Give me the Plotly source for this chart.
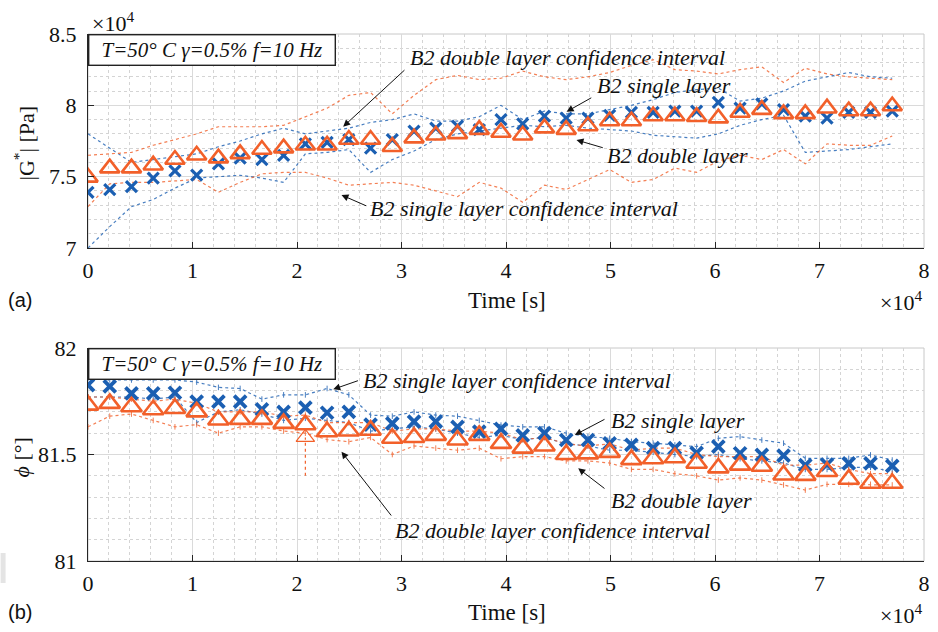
import plotly.graph_objects as go

# ---------------- data ----------------
time_s = [0, 2080, 4160, 6240, 8320, 10400, 12480, 14560, 16640, 18720,
          20800, 22880, 24960, 27040, 29120, 31200, 33280, 35360, 37440, 39520,
          41600, 43680, 45760, 47840, 49920, 52000, 54080, 56160, 58240, 60320,
          62400, 64480, 66560, 68640, 70720, 72800, 74880, 76960]

# |G*| [Pa]
g_single = [73900, 74100, 74300, 74900, 75400, 75100, 75900, 76300, 76200, 76500,
            77300, 77400, 77600, 77000, 77600, 78200, 78400, 78550, 78300, 79000,
            78700, 79250, 79100, 79100, 79300, 79500, 79500, 79600, 79600, 80200,
            79800, 80100, 79700, 79250, 79100, 79500, 79500, 79600]
g_double = [74950, 75600, 75600, 75800, 76200, 76500, 76300, 76600, 76900, 77000,
            77200, 77200, 77600, 77600, 77100, 77700, 77900, 78000, 78300, 78100,
            77900, 78400, 78300, 78550, 78900, 78900, 79250, 79250, 79200, 79100,
            79500, 79700, 79400, 79400, 79800, 79600, 79600, 79950]
g_single_hi = [78000, 77000, 76000, 76200, 76400, 76600, 77100, 77500, 78000, 78400,
               78000, 78200, 78400, 78800, 79000, 79400, 78900, 78900, 79200, 80000,
               79000, 79600, 79400, 79400, 79700, 80000, 80400, 80900, 81100, 81200,
               80300, 80500, 81000, 81700, 82000, 82300, 82000, 81900]
g_single_lo = [70000, 71500, 72900, 73400, 74200, 74900, 75000, 75100, 74900, 74600,
               76600, 76700, 76900, 75300, 76200, 76800, 77600, 78000, 78200, 78400,
               78600, 78500, 78600, 78400, 78300, 78200, 77900, 77800, 77700, 78000,
               78600, 79000, 79300, 76700, 76800, 76900, 77100, 77300]
g_double_hi = [76500, 76600, 76700, 77200, 77600, 78000, 78500, 78500, 78500, 78600,
               79200, 79800, 80700, 80900, 79400, 80700, 81800, 82100, 81800, 81900,
               82400, 82000, 81800, 82000, 82300, 82800, 83200, 82500, 82400, 82200,
               82500, 82700, 81600, 82600, 82200, 82000, 81900, 81800]
g_double_lo = [72900, 74500, 74600, 74600, 74700, 74800, 73900, 74600, 75200, 75300,
               75300, 74900, 74400, 74500, 74600, 74400, 74000, 73600, 74600, 74200,
               73200, 74400, 74100, 74800, 75500, 74600, 74800, 75600, 75300, 76100,
               76500, 76200, 76900, 75900, 77300, 77200, 77200, 77850]

# phase angle [deg]
p_single = [81.826, 81.82, 81.787, 81.787, 81.79, 81.748, 81.748, 81.748, 81.712, 81.70,
            81.72, 81.696, 81.70, 81.64, 81.646, 81.654, 81.654, 81.63, 81.607, 81.62,
            81.59, 81.60, 81.568, 81.568, 81.552, 81.545, 81.53, 81.53, 81.508, 81.537,
            81.506, 81.498, 81.495, 81.45, 81.453, 81.458, 81.458, 81.447]
p_double = [81.732, 81.74, 81.724, 81.71, 81.716, 81.70, 81.662, 81.665, 81.665, 81.646,
            81.64, 81.607, 81.61, 81.614, 81.576, 81.58, 81.59, 81.568, 81.59, 81.552,
            81.53, 81.54, 81.50, 81.503, 81.51, 81.476, 81.48, 81.485, 81.459, 81.437,
            81.45, 81.445, 81.404, 81.402, 81.42, 81.384, 81.365, 81.365]
p_single_hi = [81.858, 81.85, 81.85, 81.85, 81.85, 81.84, 81.815, 81.81, 81.76, 81.78,
               81.78, 81.81, 81.78, 81.685, 81.68, 81.70, 81.685, 81.68, 81.66, 81.638,
               81.63, 81.63, 81.60, 81.584, 81.576, 81.56, 81.553, 81.545, 81.537, 81.576,
               81.584, 81.568, 81.553, 81.482, 81.482, 81.482, 81.498, 81.474]
p_single_lo = [81.77, 81.77, 81.77, 81.76, 81.77, 81.65, 81.70, 81.71, 81.69, 81.66,
               81.67, 81.66, 81.65, 81.61, 81.62, 81.63, 81.62, 81.60, 81.58, 81.59,
               81.57, 81.58, 81.55, 81.54, 81.52, 81.52, 81.51, 81.50, 81.49, 81.50,
               81.48, 81.47, 81.46, 81.43, 81.43, 81.44, 81.44, 81.42]
p_double_hi = [81.77, 81.77, 81.76, 81.75, 81.76, 81.74, 81.70, 81.70, 81.70, 81.68,
               81.685, 81.65, 81.65, 81.65, 81.61, 81.62, 81.62, 81.61, 81.61, 81.60,
               81.57, 81.58, 81.55, 81.54, 81.55, 81.52, 81.53, 81.53, 81.50, 81.49,
               81.49, 81.49, 81.45, 81.45, 81.46, 81.43, 81.41, 81.41]
p_double_lo = [81.63, 81.68, 81.69, 81.66, 81.63, 81.64, 81.60, 81.63, 81.63, 81.61,
               81.60, 81.57, 81.56, 81.58, 81.50, 81.54, 81.53, 81.52, 81.53, 81.48,
               81.49, 81.49, 81.47, 81.47, 81.46, 81.43, 81.43, 81.41, 81.40, 81.38,
               81.39, 81.38, 81.357, 81.333, 81.36, 81.36, 81.36, 81.357]
# extra double-layer repeat point with its lower bound
extra_t = [20800]
extra_phi = [81.58]
extra_lo = [81.40]

x_ticks = [0, 10000, 20000, 30000, 40000, 50000, 60000, 70000, 80000]
x_ticktext = ["0", "1", "2", "3", "4", "5", "6", "7", "8"]
g_ticks = [70000, 75000, 80000, 85000]
g_ticktext = ["7", "7.5", "8", "8.5"]
p_ticks = [81, 81.5, 82]
p_ticktext = ["81", "81.5", "82"]

# ---------------- style ----------------
BLUE = "#1b5fb2"
ORANGE = "#f2602a"
SERIF = "Liberation Serif"
SANS = "Liberation Sans"
W, H = 938, 632
L, R, T, B = 88, 8, 34, 71
PW, PH = W - L - R, H - T - B


def pxx(x):
    return (x - L) / PW


def pxy(y):
    return (H - B - y) / PH


fig = go.Figure()


def add_panel(yref, xref, single, double, s_hi, s_lo, d_hi, d_lo, ci_marker, xsize, tsize, lw):
    for arr, col in ((s_hi, BLUE), (s_lo, BLUE), (d_hi, ORANGE), (d_lo, ORANGE)):
        fig.add_trace(go.Scatter(
            x=time_s, y=arr, mode="lines+markers" if ci_marker else "lines",
            line=dict(color=col, width=1.2, dash="dot"),
            marker=dict(symbol="line-ns", size=4, line=dict(color=col, width=1)),
            xaxis=xref, yaxis=yref, showlegend=False, opacity=0.8))
    fig.add_trace(go.Scatter(
        x=time_s, y=single, mode="markers",
        marker=dict(symbol="x-thin", size=xsize, line=dict(color=BLUE, width=lw)),
        xaxis=xref, yaxis=yref, showlegend=False))
    fig.add_trace(go.Scatter(
        x=time_s, y=double, mode="markers",
        marker=dict(symbol="triangle-up-open", size=tsize, color=ORANGE,
                    line=dict(color=ORANGE, width=2.6)),
        xaxis=xref, yaxis=yref, showlegend=False))


add_panel("y", "x", g_single, g_double, g_single_hi, g_single_lo, g_double_hi, g_double_lo,
          False, 11, 17, 3.2)
add_panel("y2", "x2", p_single, p_double, p_single_hi, p_single_lo, p_double_hi, p_double_lo,
          True, 12, 18, 3.8)

# extra repeat point in phase panel
for t, p, lo in zip(extra_t, extra_phi, extra_lo):
    fig.add_trace(go.Scatter(x=[t, t], y=[lo, p], mode="lines",
                             line=dict(color=ORANGE, width=1.2, dash="dot"),
                             xaxis="x2", yaxis="y2", showlegend=False))
fig.add_trace(go.Scatter(x=extra_t, y=extra_phi, mode="markers",
                         marker=dict(symbol="triangle-up-open", size=16, color=ORANGE,
                                     line=dict(color=ORANGE, width=1.2)),
                         xaxis="x2", yaxis="y2", showlegend=False))

axis_common = dict(
    showline=True, linecolor="#262626", linewidth=1.2, mirror=False,
    ticks="inside", ticklen=6, tickcolor="#262626", tickwidth=1,
    showgrid=True, gridcolor="#dadada", gridwidth=1, zeroline=False,
    tickfont=dict(family=SERIF, size=22, color="#111111"),
)

fig.update_layout(
    width=W, height=H, paper_bgcolor="white", plot_bgcolor="white",
    font=dict(family=SERIF, size=21, color="#111111"),
    margin=dict(l=L, r=R, t=T, b=B, pad=0),
    xaxis=dict(axis_common, range=[0, 80000], tickvals=x_ticks, ticktext=x_ticktext,
               anchor="y", domain=[0, 1], ticklabelstandoff=2,
               minor=dict(dtick=2000, showgrid=True, gridcolor="#d4d4d4", griddash="dot",
                          gridwidth=1)),
    yaxis=dict(axis_common, range=[70000, 85000], tickvals=g_ticks, ticktext=g_ticktext,
               anchor="x", domain=[313 / 527, 1], ticklabelstandoff=6,
               minor=dict(dtick=1000, showgrid=True, gridcolor="#d4d4d4", griddash="dot",
                          gridwidth=1)),
    xaxis2=dict(axis_common, range=[0, 80000], tickvals=x_ticks, ticktext=x_ticktext,
                anchor="y2", domain=[0, 1], ticklabelstandoff=2,
                minor=dict(dtick=2000, showgrid=True, gridcolor="#d4d4d4", griddash="dot",
                           gridwidth=1)),
    yaxis2=dict(axis_common, range=[81, 82], tickvals=p_ticks, ticktext=p_ticktext,
                anchor="x2", domain=[0, 213 / 527], ticklabelstandoff=6,
                minor=dict(dtick=0.1, showgrid=True, gridcolor="#d4d4d4", griddash="dot",
                           gridwidth=1)),
)

# light frame on top/right
for xr, yr in (("x domain", "y domain"), ("x2 domain", "y2 domain")):
    fig.add_shape(type="rect", xref=xr, yref=yr, x0=0, x1=1, y0=0, y1=1,
                  line=dict(color="#c8c8c8", width=1), layer="below")

# grey artefact block at left edge
fig.add_shape(type="rect", xref="paper", yref="paper",
              x0=pxx(0), x1=pxx(5), y0=pxy(583), y1=pxy(553),
              line=dict(width=0), fillcolor="#e4e4e4")

ann = []


def text(x, y, s, size=22, family=SERIF, angle=0, xanchor="center"):
    ann.append(dict(xref="paper", yref="paper", x=pxx(x), y=pxy(y), text=s,
                    showarrow=False, xanchor=xanchor, yanchor="middle",
                    textangle=angle,
                    font=dict(family=family, size=size, color="#111111")))


def arrow(hx, hy, tx, ty):
    ann.append(dict(xref="paper", yref="paper", x=pxx(hx), y=pxy(hy), text=" ",
                    showarrow=True, ax=tx - hx, ay=ty - hy, arrowhead=2,
                    arrowsize=1.4, arrowwidth=1, arrowcolor="#111111", standoff=0,
                    font=dict(size=2)))


# condition boxes
for top_y in (34, 348):
    ann.append(dict(xref="paper", yref="paper", x=pxx(88), y=pxy(top_y),
                    xanchor="left", yanchor="top", showarrow=False,
                    text="<i>T=50° C γ=0.5% f=10 Hz</i>",
                    width=243, height=27, borderpad=1, borderwidth=1.4,
                    bordercolor="#222222", bgcolor="white",
                    font=dict(family=SERIF, size=21, color="#111111")))

# axis titles and multipliers
text(113, 22, "×10<sup>4</sup>")
text(24, 143, "|G<sup>*</sup>| [Pa]", size=22, angle=-90)
text(21, 457, "<i>ϕ</i> [°]", size=22, angle=-90)
text(510, 300, "Time [s]", size=23)
text(510, 612, "Time [s]", size=23)
text(907, 301, "×10<sup>4</sup>")
text(907, 614, "×10<sup>4</sup>")
text(20, 300, "(a)", size=20, family=SANS)
text(20, 612, "(b)", size=20, family=SANS)

# top panel labels
text(571, 57, "<i>B2 double layer confidence interval</i>")
text(668, 85, "<i>B2 single layer</i>")
text(682, 155, "<i>B2 double layer</i>")
text(527, 208, "<i>B2 single layer confidence interval</i>")
arrow(345, 126.7, 408.3, 68.3)
arrow(570, 111.7, 596.7, 96.7)
arrow(580, 140, 608.3, 148.3)
arrow(343.3, 195, 370, 206.7)

# bottom panel labels
text(520, 380, "<i>B2 single layer confidence interval</i>")
text(682, 420, "<i>B2 single layer</i>")
text(686, 500, "<i>B2 double layer</i>")
text(556, 530, "<i>B2 double layer confidence interval</i>")
arrow(335, 389.3, 361.7, 380)
arrow(578.3, 435, 610, 418.3)
arrow(581.7, 468.3, 610, 490)
arrow(343.3, 451.7, 395, 518)

fig.update_layout(annotations=ann)
fig.write_html("out.html", config={"displayModeBar": False},
               post_script="document.body.style.margin='0';document.body.style.padding='0';")
